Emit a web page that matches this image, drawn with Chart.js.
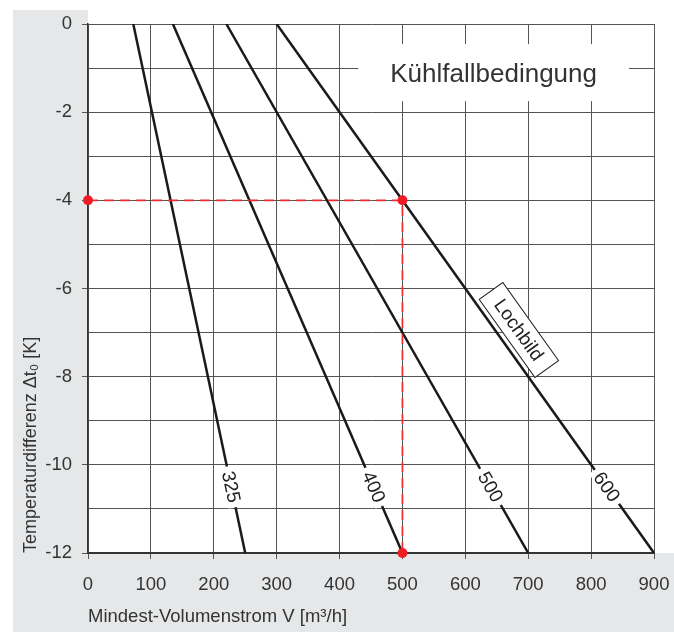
<!DOCTYPE html>
<html>
<head>
<meta charset="utf-8">
<script src="https://cdn.jsdelivr.net/npm/chart.js@4.4.1/dist/chart.umd.min.js"></script>
<style>
  html, body { margin: 0; padding: 0; background: #fff; }
  #wrap { width: 674px; height: 632px; }
</style>
</head>
<body>
<div id="wrap"><canvas id="kuehlChart" width="674" height="632"></canvas></div>
<script>
// Lochbild-Kennlinien: Volumenstrom bei Δt = 0 K und bei Δt = -12 K
const curveNames = ['325', '400', '500', '600'];
const flowAtZero = [72, 135, 220, 300];
const flowAtMinus12 = [250, 500, 700, 900];
const tempEnds = [0, -12];

// Ablesebeispiel (rot gestrichelt)
const markerFlow = [0, 500, 500];
const markerTemp = [-4, -4, -12];

const FONT = "'Liberation Sans', Arial, sans-serif";
const TEXT = '#333';
const GRID = '#555';

// grauer Rahmen links und unten
const panelBg = {
  id: 'panelBg',
  beforeDraw(chart) {
    const { ctx, chartArea, width, height } = chart;
    ctx.save();
    ctx.fillStyle = '#e6e7e8';
    ctx.fillRect(13, 10, chartArea.left - 13, chartArea.bottom - 10);
    ctx.fillRect(13, chartArea.bottom, width - 13, height - chartArea.bottom);
    ctx.restore();
  }
};

// Titel im Diagramm
const titleBox = {
  id: 'titleBox',
  beforeDatasetsDraw(chart) {
    const { ctx, scales } = chart;
    const px = scales.x.getPixelForValue(645);
    const py = scales.y.getPixelForValue(-1.16);
    ctx.save();
    ctx.font = '26px ' + FONT;
    const w = ctx.measureText('Kühlfallbedingung').width;
    ctx.fillStyle = '#fff';
    ctx.fillRect(px - w / 2 - 32, py - 31, w + 64, 57);
    ctx.fillStyle = TEXT;
    ctx.textAlign = 'center';
    ctx.textBaseline = 'middle';
    ctx.fillText('Kühlfallbedingung', px, py);
    ctx.restore();
  }
};

function curveAngle(scales, i) {
  const x0 = scales.x.getPixelForValue(flowAtZero[i]);
  const y0 = scales.y.getPixelForValue(tempEnds[0]);
  const x1 = scales.x.getPixelForValue(flowAtMinus12[i]);
  const y1 = scales.y.getPixelForValue(tempEnds[1]);
  return Math.atan2(y1 - y0, x1 - x0);
}

function flowAt(i, t) {
  return flowAtZero[i] + (flowAtMinus12[i] - flowAtZero[i]) * (t - tempEnds[0]) / (tempEnds[1] - tempEnds[0]);
}

// Beschriftung der Kennlinien + Lochbild-Kasten
const curveLabels = {
  id: 'curveLabels',
  afterDatasetsDraw(chart) {
    const { ctx, scales } = chart;
    ctx.save();
    ctx.font = '19px ' + FONT;
    ctx.textAlign = 'center';
    ctx.textBaseline = 'middle';
    const labelT = -10.5;
    curveNames.forEach((name, i) => {
      const px = scales.x.getPixelForValue(flowAt(i, labelT));
      const py = scales.y.getPixelForValue(labelT);
      const w = ctx.measureText(name).width;
      ctx.save();
      ctx.translate(px, py);
      ctx.rotate(curveAngle(scales, i));
      ctx.fillStyle = '#fff';
      ctx.fillRect(-w / 2 - 5, -7, w + 10, 14);
      ctx.fillStyle = '#222';
      ctx.fillText(name, 0, 1);
      ctx.restore();
    });

    // Lochbild
    const lt = -6.94;
    const lx = scales.x.getPixelForValue(flowAt(3, lt)) + 24;
    const ly = scales.y.getPixelForValue(lt);
    ctx.translate(lx, ly);
    ctx.rotate(curveAngle(scales, 3));
    ctx.fillStyle = '#fff';
    ctx.fillRect(-48, -14.5, 96, 29);
    ctx.strokeStyle = '#222';
    ctx.lineWidth = 1;
    ctx.strokeRect(-48, -14.5, 96, 29);
    ctx.fillStyle = '#222';
    ctx.fillText('Lochbild', 0, 1);
    ctx.restore();
  }
};

const datasets = [{
  label: 'Beispiel',
  data: markerFlow.map((v, i) => ({ x: v, y: markerTemp[i] })),
  borderColor: '#ee2a2f',
  borderWidth: 1.7,
  borderDash: [10, 6],
  pointRadius: 5,
  pointBackgroundColor: '#ee1c25',
  pointBorderWidth: 0,
  clip: false
}];
curveNames.forEach((name, i) => {
  datasets.push({
    label: name,
    data: [{ x: flowAtZero[i], y: tempEnds[0] }, { x: flowAtMinus12[i], y: tempEnds[1] }],
    borderColor: '#1a1a1a',
    borderWidth: 2.5,
    pointRadius: 0
  });
});

const ctx = document.getElementById('kuehlChart').getContext('2d');
new Chart(ctx, {
  type: 'line',
  data: { datasets: datasets },
  options: {
    responsive: false,
    animation: false,
    events: [],
    layout: { padding: { left: 13, top: 24, right: 20, bottom: 0 } },
    plugins: {
      legend: { display: false },
      tooltip: { enabled: false }
    },
    scales: {
      x: {
        type: 'linear',
        min: 0,
        max: 900,
        afterFit(scale) {
          scale.height = 79;
          scale.paddingLeft = 0;
          scale.paddingRight = 0;
        },
        border: { color: '#333', width: 2 },
        grid: { color: GRID, lineWidth: 1, tickLength: 6, tickColor: GRID },
        ticks: {
          stepSize: 100,
          padding: 15,
          color: TEXT,
          font: { family: FONT, size: 18.5 },
          maxRotation: 0,
          callback: v => String(v)
        },
        title: {
          display: true,
          text: 'Mindest-Volumenstrom V [m³/h]',
          align: 'start',
          color: TEXT,
          font: { family: FONT, size: 18.5 },
          padding: { top: 0, bottom: 4 }
        }
      },
      y: {
        type: 'linear',
        min: -12,
        max: 0,
        afterFit(scale) {
          scale.width = 75;
          scale.paddingTop = 0;
          scale.paddingBottom = 0;
        },
        border: { color: '#333', width: 1.5 },
        grid: {
          color: GRID,
          lineWidth: 1,
          tickLength: 6,
          tickColor: c => (c.tick && c.tick.value % 2 === 0) ? GRID : 'rgba(0,0,0,0)'
        },
        ticks: {
          stepSize: 1,
          padding: 10,
          color: TEXT,
          font: { family: FONT, size: 18.5 },
          callback: v => (v % 2 === 0 ? String(v) : '')
        },
        title: {
          display: true,
          text: 'Temperaturdifferenz Δt₀ [K]',
          align: 'start',
          color: TEXT,
          font: { family: FONT, size: 18 },
          padding: { top: 7, bottom: 0 }
        }
      }
    }
  },
  plugins: [panelBg, titleBox, curveLabels]
});
</script>
</body>
</html>
